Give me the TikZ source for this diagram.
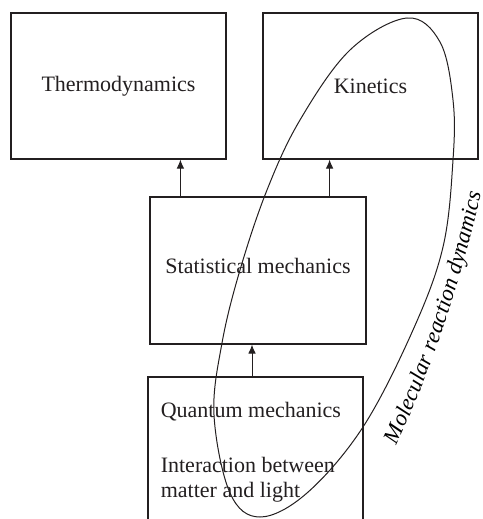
\documentclass[tikz,border=0pt]{standalone}
\usepackage{fontspec}
\setmainfont{Liberation Serif}
\usepackage{xcolor}
\usetikzlibrary{arrows.meta, decorations.text}
\definecolor{ink}{HTML}{231F20}

\begin{document}
\begin{tikzpicture}[
    x=0.5pt, y=-0.5pt,
    every node/.style={font=\fontsize{11}{12.5}\selectfont, text=ink},
    box/.style={draw=ink, line width=0.6pt, minimum width=107.5pt, minimum height=73pt, inner sep=0pt},
    arr/.style={-{Latex[length=4.5pt, width=3.8pt]}, draw=ink, line width=0.5pt},
    mrdline/.style={draw=ink, line width=0.5pt}
  ]
  \useasboundingbox (0,0) rectangle (482,519);

  \node[box] (thermo) at (118.5,86) {Thermodynamics};
  \node[box] (kin) at (370.5,86) {Kinetics};
  \node[box, minimum width=108pt, minimum height=73.5pt, text depth=5pt] (stat) at (258,270.5) {Statistical mechanics};
  \node[box, minimum height=80pt] (quantum) at (255.5,457) {};
  \node[anchor=north west, align=left, inner sep=0pt] (qtext) at ([xshift=6.5pt, yshift=-12.5pt]quantum.north west)
    {Quantum mechanics\\[15pt]Interaction between\\matter and light};

  \coordinate (tfoot) at ([xshift=15.5pt]stat.north west);
  \coordinate (kfoot) at ([xshift=-18.5pt]stat.north east);
  \coordinate (qhead) at ([xshift=-1.75pt]quantum.north);
  \draw[arr] (tfoot) -- (tfoot |- thermo.south);
  \draw[arr] (kfoot) -- (kfoot |- kin.south);
  \draw[arr] (qhead) -- (qhead |- stat.south);

  % loop around the dynamics part
  \draw[mrdline] plot[smooth cycle, tension=0.6] coordinates {(407,18) (440,42) (453,100) (453,160) (443,247)
    (413,330) (363,427) (307,493) (260,517) (230,493) (214,415) (222,343) (240,270) (267,190) (300,120) (350,50)};
  \path[decorate, decoration={text along path, text align=center,
    text={|\fontsize{11.3}{13}\selectfont\itshape|Molecular reaction dynamics}}]
    (385,470) .. controls (429,380) and (463,280) .. (487,166);
\end{tikzpicture}
\end{document}
